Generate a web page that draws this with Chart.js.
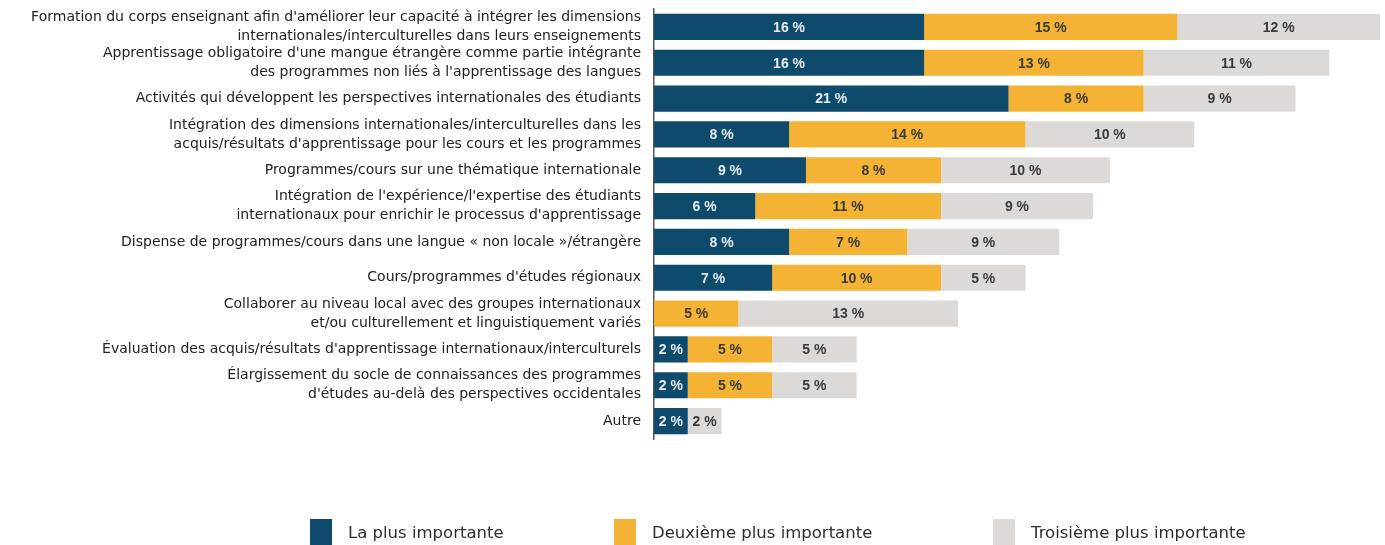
<!DOCTYPE html>
<html>
<head>
<meta charset="utf-8">
<script src="https://cdn.jsdelivr.net/npm/chart.js@4/dist/chart.umd.min.js"></script>
<style>
  html, body { margin: 0; padding: 0; background: #ffffff; }
  #wrap { width: 1385px; height: 545px; position: relative; }
</style>
</head>
<body>
<div id="wrap"><canvas id="c" width="1385" height="545"></canvas></div>
<script>
const categories = [
  ["Formation du corps enseignant afin d'améliorer leur capacité à intégrer les dimensions", "internationales/interculturelles dans leurs enseignements"],
  ["Apprentissage obligatoire d'une mangue étrangère comme partie intégrante", "des programmes non liés à l'apprentissage des langues"],
  "Activités qui développent les perspectives internationales des étudiants",
  ["Intégration des dimensions internationales/interculturelles dans les", "acquis/résultats d'apprentissage pour les cours et les programmes"],
  "Programmes/cours sur une thématique internationale",
  ["Intégration de l'expérience/l'expertise des étudiants", "internationaux pour enrichir le processus d'apprentissage"],
  "Dispense de programmes/cours dans une langue « non locale »/étrangère",
  "Cours/programmes d'études régionaux",
  ["Collaborer au niveau local avec des groupes internationaux", "et/ou culturellement et linguistiquement variés"],
  "Évaluation des acquis/résultats d'apprentissage internationaux/interculturels",
  ["Élargissement du socle de connaissances des programmes", "d'études au-delà des perspectives occidentales"],
  "Autre"
];
const seriesNames = ["La plus importante", "Deuxième plus importante", "Troisième plus importante"];
const mostImportant   = [16, 16, 21, 8, 9, 6, 8, 7, 0, 2, 2, 2];
const secondImportant = [15, 13, 8, 14, 8, 11, 7, 10, 5, 5, 5, 0];
const thirdImportant  = [12, 11, 9, 10, 10, 9, 9, 5, 13, 5, 5, 2];
const seriesColors = ["#0e4a6b", "#f5b335", "#dcd9d6"];
const labelColors = ["#e6edf2", "#3a3a3a", "#3a3a3a"];

const FONT = "'DejaVu Sans', 'Liberation Sans', Arial, sans-serif";
const NUMFONT = "'Liberation Sans', Arial, sans-serif";

const barLabels = {
  id: 'barLabels',
  afterDatasetsDraw(chart) {
    const ctx = chart.ctx;
    ctx.save();
    ctx.font = "bold 14px " + NUMFONT;
    ctx.textAlign = 'center';
    ctx.textBaseline = 'middle';
    chart.data.datasets.forEach((ds, di) => {
      const meta = chart.getDatasetMeta(di);
      meta.data.forEach((el, i) => {
        const v = ds.data[i];
        if (!v) return;
        const cx = (el.x + el.base) / 2;
        ctx.fillStyle = labelColors[di];
        ctx.fillText(v + ' %', cx, el.y + 1);
      });
    });
    ctx.restore();
  }
};

const customLegend = {
  id: 'customLegend',
  afterDraw(chart) {
    const ctx = chart.ctx;
    const boxX = [310, 614, 993];
    const top = 519;
    ctx.save();
    ctx.font = "16.5px " + FONT;
    ctx.textBaseline = 'middle';
    ctx.textAlign = 'left';
    seriesNames.forEach((name, i) => {
      ctx.fillStyle = seriesColors[i];
      ctx.fillRect(boxX[i], top, 22, 26);
      ctx.fillStyle = '#2e2e2e';
      ctx.fillText(name, boxX[i] + 38, top + 15);
    });
    ctx.restore();
  }
};

new Chart(document.getElementById('c'), {
  type: 'bar',
  data: {
    labels: categories,
    datasets: [
      { label: seriesNames[0], data: mostImportant, backgroundColor: seriesColors[0] },
      { label: seriesNames[1], data: secondImportant, backgroundColor: seriesColors[1] },
      { label: seriesNames[2], data: thirdImportant, backgroundColor: seriesColors[2] }
    ]
  },
  options: {
    indexAxis: 'y',
    responsive: false,
    animation: false,
    layout: { padding: { top: 9, right: 5, bottom: 106, left: 10 } },
    datasets: { bar: { categoryPercentage: 1, barPercentage: 0.73, borderWidth: 0 } },
    scales: {
      x: {
        stacked: true, display: false, min: 0, max: 43
      },
      y: {
        stacked: true,
        grid: { display: false, drawTicks: false },
        border: { display: true, color: '#555555', width: 1.5 },
        ticks: {
          autoSkip: false,
          color: '#222222',
          padding: 13,
          font: { family: FONT, size: 14, lineHeight: 1.35 }
        },
        afterFit(scale) {
          scale.width = 644;
          scale.paddingTop = 0;
          scale.paddingBottom = 0;
        }
      }
    },
    plugins: {
      legend: { display: false },
      tooltip: { enabled: false }
    }
  },
  plugins: [barLabels, customLegend]
});
</script>
</body>
</html>
